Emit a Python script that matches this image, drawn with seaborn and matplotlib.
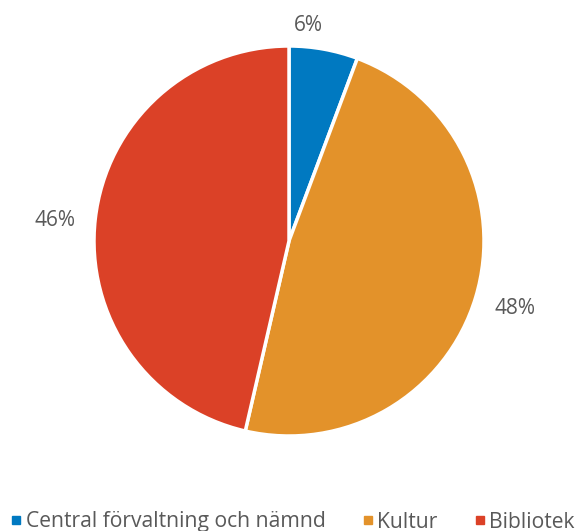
import numpy as np
import matplotlib
matplotlib.use("Agg")
import matplotlib.pyplot as plt
import seaborn as sns
from matplotlib.lines import Line2D

categories = ["Central förvaltning och nämnd", "Kultur", "Bibliotek"]
values = [5.7, 47.9, 46.4]
labels = ["6%", "48%", "46%"]
colors = ["#0079C1", "#E3922A", "#DB4127"]

sns.set_theme(style="white")
plt.rcParams["font.family"] = ["Open Sans", "DejaVu Sans"]

W, H = 578, 531
cx, cy, r = 289, 241, 195

fig = plt.figure(figsize=(W / 100, H / 100), dpi=100)
ax = fig.add_axes([0, 0, 1, 1])

wedges, texts, autotexts = ax.pie(
    values, colors=colors, startangle=90, counterclock=False,
    autopct="%1.0f%%", pctdistance=1.21, radius=1,
    wedgeprops=dict(edgecolor="white", linewidth=2.5),
    textprops=dict(fontsize=15, color="#595959"),
)
for t, lab in zip(autotexts, labels):
    t.set_text(lab)

# first label sits closer to the pie, third one a bit lower
w = wedges[0]
ang = np.deg2rad((w.theta1 + w.theta2) / 2 + 5)
autotexts[0].set_position((1.11 * np.cos(ang), 1.11 * np.sin(ang)))
x3, y3 = autotexts[2].get_position()
autotexts[2].set_position((x3, y3 - 0.03))

ax.set_xlim(-cx / r, (W - cx) / r)
ax.set_ylim(-(H - cy) / r, cy / r)
ax.set_aspect("equal")
ax.axis("off")

handles = [Line2D([0], [0], marker="s", linestyle="", markersize=6,
                  markerfacecolor=c, markeredgecolor=c) for c in colors]
fig.legend(handles, categories, loc="center", bbox_to_anchor=(0.506, 1 - 522 / H),
           ncol=3, frameon=False, fontsize=15.2, handletextpad=0.15,
           columnspacing=1.7, labelcolor="#595959", handlelength=0.6,
           borderpad=0, borderaxespad=0)

fig.savefig("out.png", dpi=100)
